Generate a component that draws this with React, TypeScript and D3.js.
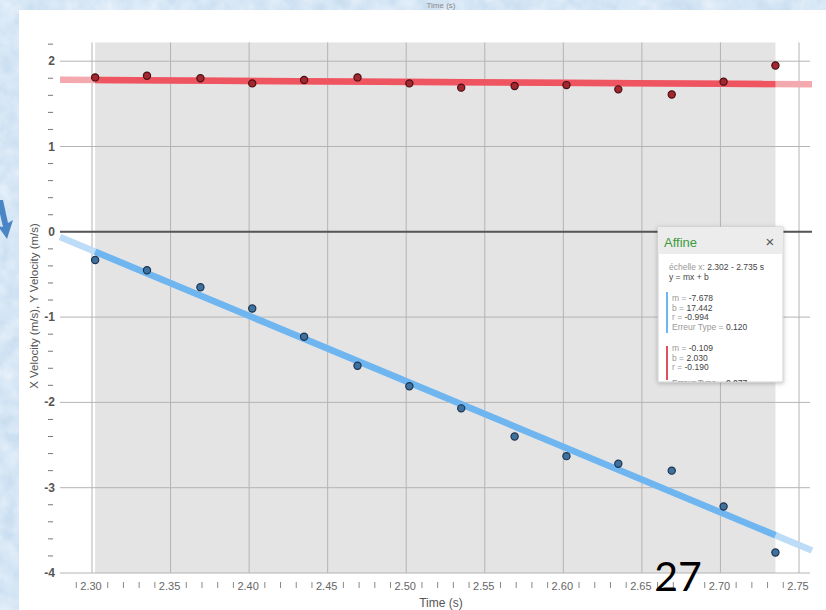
import React from "react";
import * as d3 from "d3";

// readings from the slide (time in s, velocities in m/s)
const times = [
  2.302, 2.335, 2.369, 2.402, 2.435, 2.469, 2.502, 2.535, 2.569, 2.602,
  2.635, 2.669, 2.702, 2.735,
];
const xVelocity = [
  -0.33, -0.45, -0.65, -0.9, -1.23, -1.57, -1.81, -2.07, -2.4, -2.63,
  -2.72, -2.8, -3.22, -3.76,
];
const yVelocity = [
  1.81, 1.83, 1.8, 1.74, 1.78, 1.81, 1.74, 1.69, 1.71, 1.72, 1.67, 1.61,
  1.76, 1.95,
];

const xFit = { m: -7.678, b: 17.442, r: -0.994, err: 0.12 };
const yFit = { m: -0.109, b: 2.03, r: -0.19, err: 0.077 };
const fitRange = [2.302, 2.735];

const xTickLabels = ["2.30", "2.35", "2.40", "2.45", "2.50", "2.55", "2.60", "2.65", "2.70", "2.75"];
const yTickLabels = ["-4", "-3", "-2", "-1", "0", "1", "2"];

const W = 826;
const H = 610;
const font = "'Liberation Sans', Arial, sans-serif";

const App = () => {
  const x = d3.scaleLinear().domain([2.3, 2.75]).range([92, 799]);
  const y = d3.scaleLinear().domain([-4, 2]).range([573, 61.2]);

  const top = y(2.22);
  const bottom = y(-4);
  const lineStart = x.invert(60);
  const lineEnd = x.invert(812);

  const minorX = d3.range(229, 276).map((d) => d / 100).filter((d) => Math.round(d * 100) % 5 !== 0);
  const minorY = d3.range(-20, 12).map((d) => d / 5).filter((d) => Math.round(d * 5) % 5 !== 0);

  const fitPath = (fit: { m: number; b: number }, a: number, b: number) =>
    d3
      .line<number>()
      .x((t) => x(t))
      .y((t) => y(fit.m * t + fit.b))([a, b]) as string;

  const legendX = 658;
  const legendY = 227;

  return (
    <svg width={W} height={H} style={{ position: "absolute", left: 0, top: 0 }}>
      <defs>
        <filter id="shadow" x="-10%" y="-10%" width="130%" height="130%">
          <feDropShadow dx="0" dy="1" stdDeviation="2" floodColor="#000" floodOpacity="0.25" />
        </filter>
        <clipPath id="legendClip">
          <rect x={legendX} y={legendY} width={125} height={155} />
        </clipPath>
        <filter id="grain">
          <feTurbulence type="fractalNoise" baseFrequency="0.06" numOctaves="3" seed="4" />
          <feColorMatrix type="matrix" values="0 0 0 0 0.80  0 0 0 0 0.88  0 0 0 0 0.96  0 0 0 -1.1 1.1" />
        </filter>
      </defs>

      {/* slide background */}
      <rect width={W} height={H} fill="#c2d9ee" />
      <rect width={W} height={H} filter="url(#grain)" />
      <text x={441} y={8} textAnchor="middle" fontFamily={font} fontSize={8} fill="#8a8a8a">
        Time (s)
      </text>
      <rect x={19} y={10} width={W - 19} height={H - 10} fill="#ffffff" />

      {/* arrow on the left */}
      <path d="M0,200 L3,200 L8,223 L13,220 L7,239 L-2,226 L3,227 L0,214 Z" fill="#4a86c6" />

      {/* fit-range shading */}
      <rect x={x(fitRange[0])} y={top} width={x(fitRange[1]) - x(fitRange[0])} height={bottom - top} fill="#e4e4e4" />

      {/* grid */}
      {xTickLabels.map((l) => (
        <line key={"vx" + l} x1={x(+l)} x2={x(+l)} y1={top} y2={bottom} stroke="#b4b4b4" strokeWidth={1} />
      ))}
      {yTickLabels.map((l) => (
        <line key={"hy" + l} x1={60} x2={810} y1={y(+l)} y2={y(+l)} stroke="#b4b4b4" strokeWidth={1} />
      ))}
      <line x1={60} x2={812} y1={y(0)} y2={y(0)} stroke="#555" strokeWidth={2} />

      {/* y axis */}
      {minorY.map((v) => (
        <line key={"my" + v} x1={48} x2={53} y1={y(v)} y2={y(v)} stroke="#777" strokeWidth={1} />
      ))}
      {yTickLabels.map((l) => (
        <text key={"ly" + l} x={55} y={y(+l) + 4} textAnchor="end" fontFamily={font} fontSize={12} fontWeight="bold" fill="#555">
          {l}
        </text>
      ))}
      <text
        transform={`translate(38,306) rotate(-90)`}
        textAnchor="middle"
        fontFamily={font}
        fontSize={11.5}
        fill="#555"
      >
        X Velocity (m/s), Y Velocity (m/s)
      </text>

      {/* x axis */}
      {minorX.map((t) => (
        <line key={"mx" + t} x1={x(t)} x2={x(t)} y1={582} y2={588} stroke="#888" strokeWidth={1} />
      ))}
      {xTickLabels.map((l) => (
        <text key={"lx" + l} x={x(+l) - 1} y={589.5} textAnchor="middle" fontFamily={font} fontSize={11} fill="#666">
          {l}
        </text>
      ))}
      <text x={441} y={607} textAnchor="middle" fontFamily={font} fontSize={12} fill="#555">
        Time (s)
      </text>

      {/* fit lines, faded outside the fit range */}
      <path d={fitPath(yFit, lineStart, lineEnd)} stroke="#f4a9ae" strokeWidth={6.5} fill="none" />
      <path d={fitPath(yFit, fitRange[0], fitRange[1])} stroke="#ee5561" strokeWidth={6.5} fill="none" />
      <path d={fitPath(xFit, lineStart, lineEnd)} stroke="#bcdcf7" strokeWidth={6.5} fill="none" />
      <path d={fitPath(xFit, fitRange[0], fitRange[1])} stroke="#6fb5f0" strokeWidth={6.5} fill="none" />

      {/* points */}
      {times.map((t, i) => (
        <circle key={"py" + i} cx={x(t)} cy={y(yVelocity[i])} r={3.6} fill="#a3272f" stroke="#4a1014" strokeWidth={1.2} />
      ))}
      {times.map((t, i) => (
        <circle key={"px" + i} cx={x(t)} cy={y(xVelocity[i])} r={3.6} fill="#3f719f" stroke="#1d3550" strokeWidth={1.2} />
      ))}

      {/* legend box */}
      <g filter="url(#shadow)">
        <rect x={legendX} y={legendY} width={125} height={155} fill="#fff" stroke="#d0d0d0" />
      </g>
      <g clipPath="url(#legendClip)" fontFamily={font}>
        <rect x={legendX} y={legendY} width={125} height={27} fill="#ececec" />
        <text x={664} y={247} fontSize={13} fill="#3d9b3d">Affine</text>
        <text x={770} y={247} fontSize={15} textAnchor="middle" fill="#555">×</text>
        <text x={669} y={270} fontSize={8.5} fill="#444">
          <tspan fill="#999">échelle x: </tspan>
          {fitRange[0].toFixed(3)} - {fitRange[1].toFixed(3)} s
        </text>
        <text x={669} y={280} fontSize={8.5} fill="#444">y = mx + b</text>

        <rect x={666} y={292} width={2} height={41} fill="#6fb5f0" />
        <text x={672} y={301} fontSize={8.5} fill="#444"><tspan fill="#999">m = </tspan>{xFit.m.toFixed(3)}</text>
        <text x={672} y={310.5} fontSize={8.5} fill="#444"><tspan fill="#999">b = </tspan>{xFit.b.toFixed(3)}</text>
        <text x={672} y={320} fontSize={8.5} fill="#444"><tspan fill="#999">r = </tspan>{xFit.r.toFixed(3)}</text>
        <text x={672} y={329.5} fontSize={8.5} fill="#444"><tspan fill="#999">Erreur Type = </tspan>{xFit.err.toFixed(3)}</text>

        <rect x={666} y={346} width={2} height={34} fill="#e0505a" />
        <text x={672} y={351} fontSize={8.5} fill="#444"><tspan fill="#999">m = </tspan>{yFit.m.toFixed(3)}</text>
        <text x={672} y={360.5} fontSize={8.5} fill="#444"><tspan fill="#999">b = </tspan>{yFit.b.toFixed(3)}</text>
        <text x={672} y={370} fontSize={8.5} fill="#444"><tspan fill="#999">r = </tspan>{yFit.r.toFixed(3)}</text>
        <text x={672} y={386} fontSize={8.5} fill="#444"><tspan fill="#999">Erreur Type = </tspan>{yFit.err.toFixed(3)}</text>
      </g>

      {/* slide number */}
      <text x={678} y={591} textAnchor="middle" fontFamily="Lato, 'Open Sans', sans-serif" fontSize={41} fill="#000">
        27
      </text>
    </svg>
  );
};

export default App;
